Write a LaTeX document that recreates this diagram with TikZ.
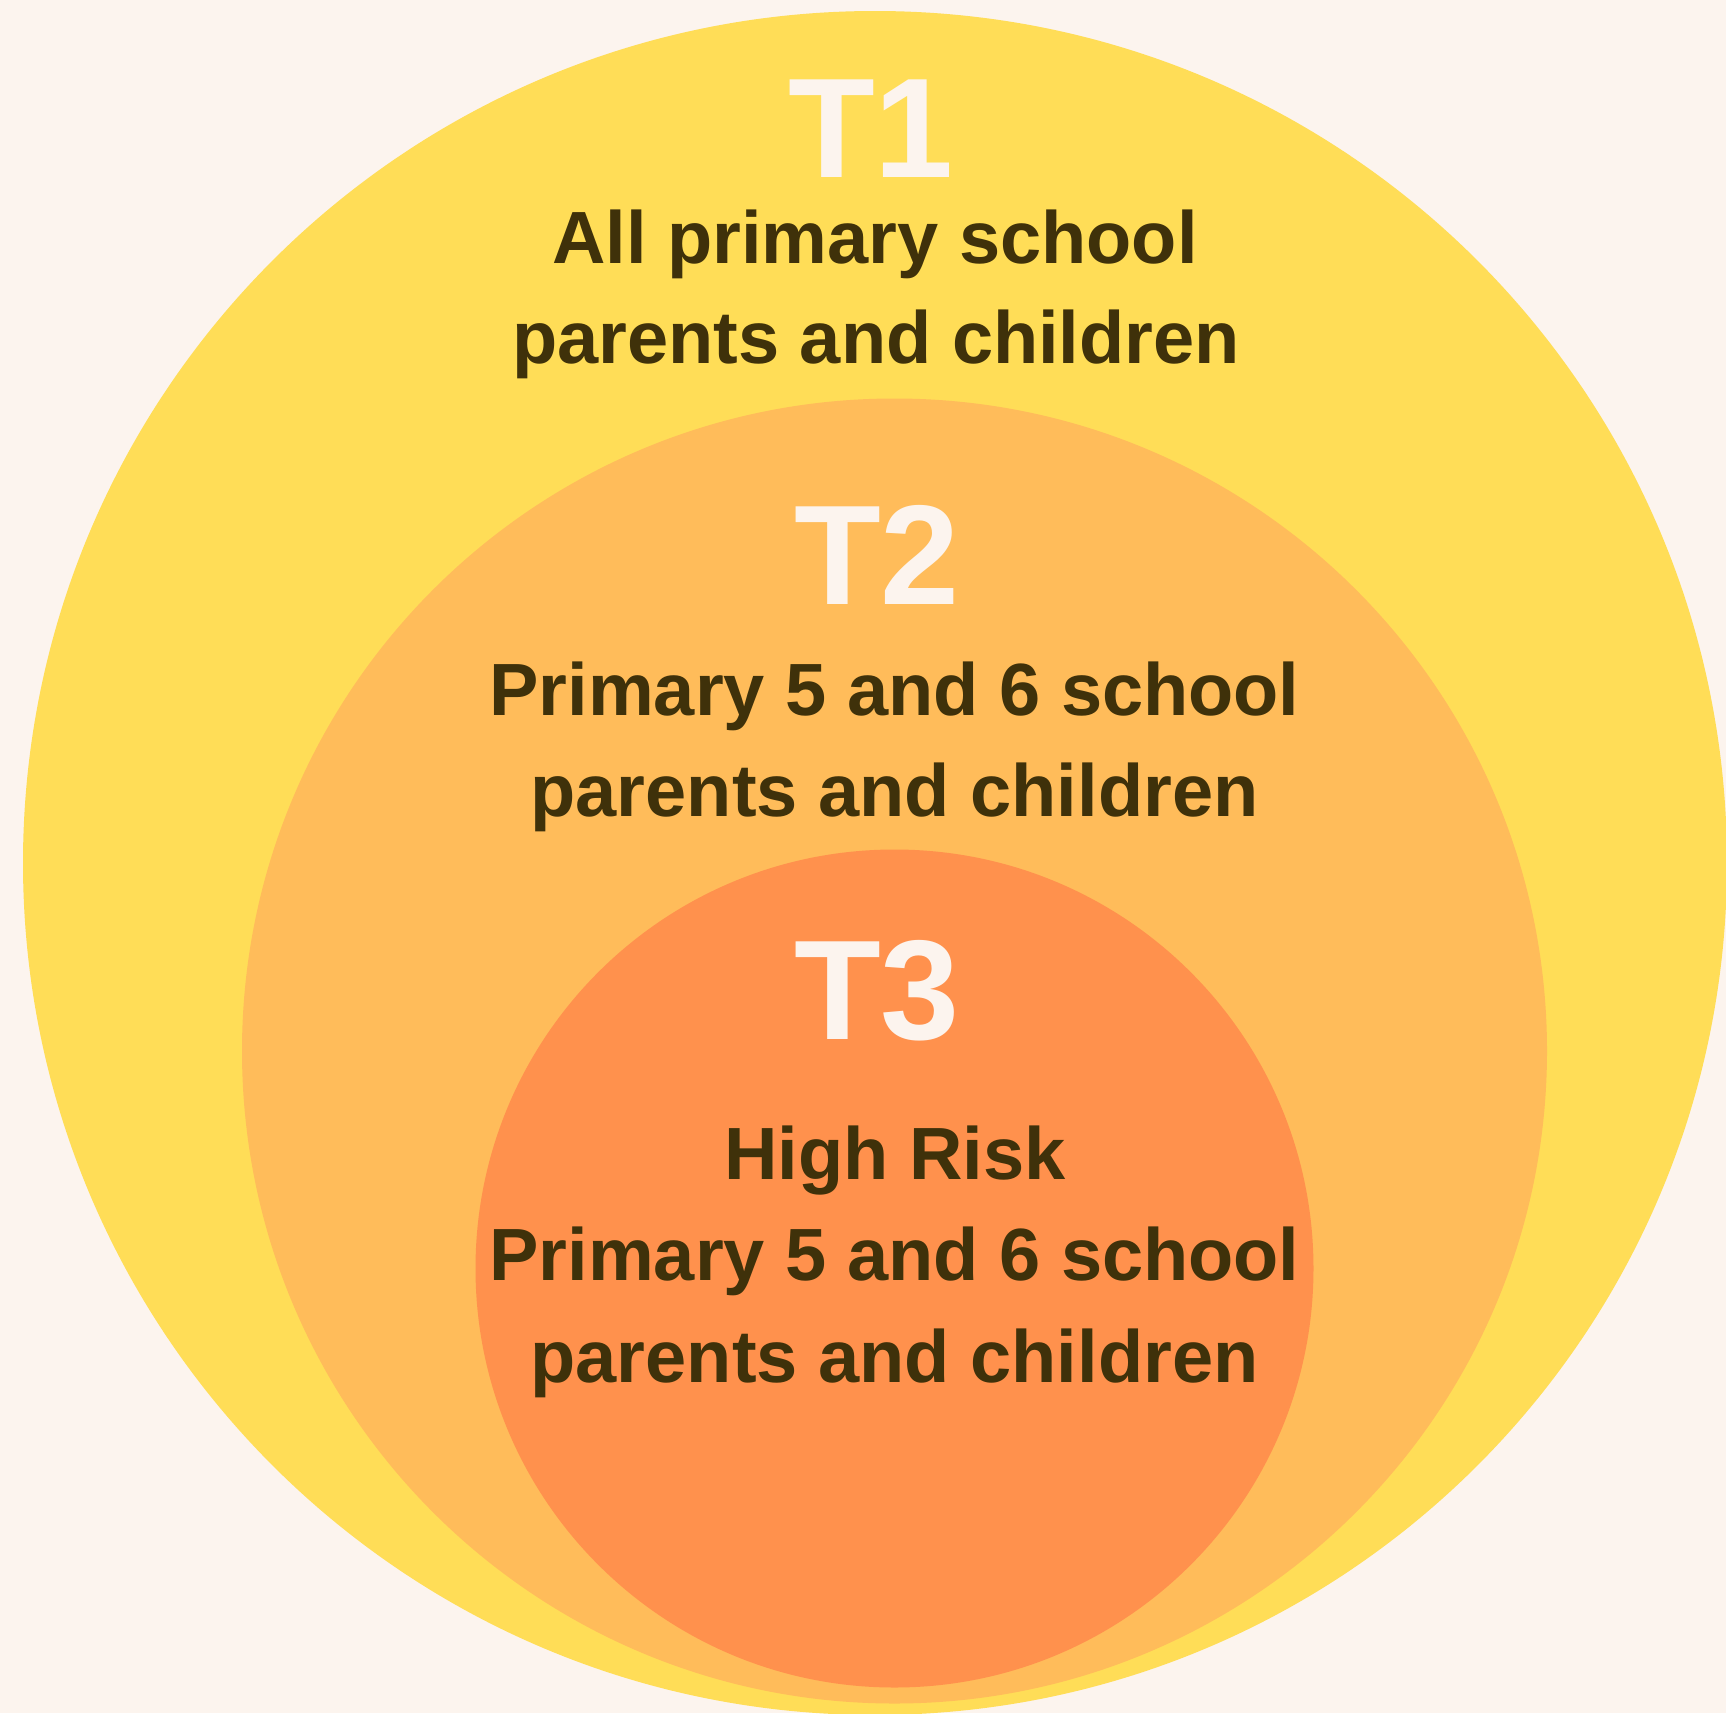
\documentclass[tikz,border=0pt]{standalone}
\usepackage{fontspec}
\setmainfont{Liberation Sans}
\definecolor{bgc}{HTML}{FCF4EE}
\definecolor{tone}{HTML}{FFDD57}
\definecolor{ttwo}{HTML}{FFBC5A}
\definecolor{tthree}{HTML}{FF914D}
\definecolor{txtc}{HTML}{3F310A}
\begin{document}
\begin{tikzpicture}[x=1pt,y=-1pt,
  ring/.style={circle, inner sep=0pt, draw=none},
  body/.style={anchor=base, inner sep=0pt, text=txtc, font=\fontsize{74}{80}\selectfont\bfseries},
  title/.style={anchor=base, inner sep=0pt, text=bgc, font=\fontsize{142}{150}\selectfont\bfseries}]
\fill[bgc] (0,0) rectangle (1726,1713);
\useasboundingbox (0,0) rectangle (1726,1713);
\begin{scope}
\clip (0,0) rectangle (1726,1713);
\node[ring, fill=tone, minimum size=1704pt] (c1) at (875,863) {};
\node[ring, fill=ttwo, minimum size=1305pt] (c2) at (894.5,1051) {};
\node[ring, fill=tthree, minimum size=838pt] (c3) at (894.5,1268.5) {};
\end{scope}
\node[title] (t1) at (871,177) {T1};
\node[body] (t1a) at (875,263) {All primary school};
\node[body] (t1b) at (876,363) {parents and children};
\node[title] (t2) at (877,604) {T2};
\node[body] (t2a) at (894.5,715) {Primary 5 and 6 school};
\node[body] (t2b) at (894.5,816) {parents and children};
\node[title] (t3) at (877,1039) {T3};
\node[body] (t3h) at (895,1179) {High Risk};
\node[body] (t3a) at (894.5,1280) {Primary 5 and 6 school};
\node[body] (t3b) at (894.5,1382) {parents and children};
\end{tikzpicture}
\end{document}
